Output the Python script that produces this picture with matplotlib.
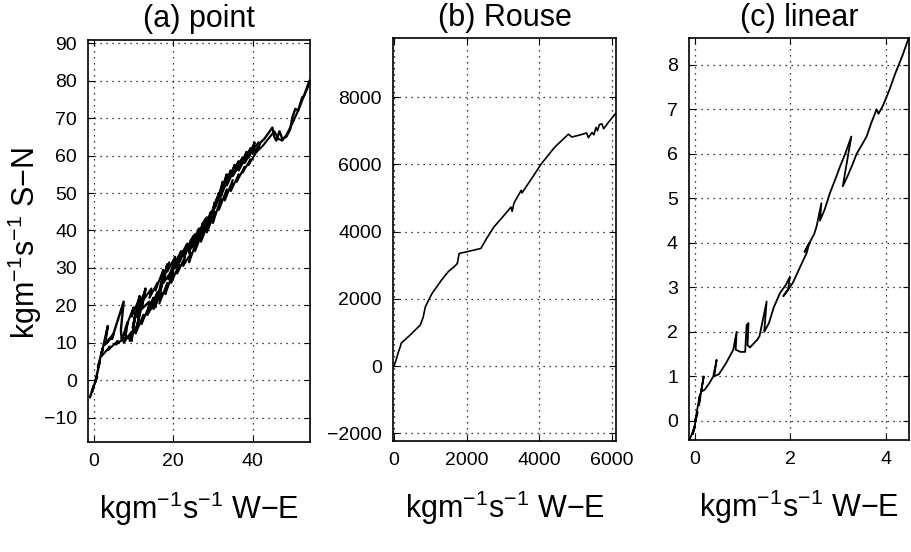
import matplotlib
matplotlib.use("Agg")
import matplotlib.pyplot as plt

plt.rcParams['font.family'] = ['Liberation Sans', 'DejaVu Sans']
plt.rcParams['mathtext.fontset'] = 'custom'
plt.rcParams['mathtext.rm'] = 'Liberation Sans'
plt.rcParams['mathtext.it'] = 'Liberation Sans:italic'
plt.rcParams['mathtext.default'] = 'regular'

# (a) point  - several overlapping cumulative transport trajectories
pa_x = [-1.0, 0.0, -0.5, 0.8, 0.3, 1.5, 1.0, 2.2, 1.8, 3.5, 2.8, 4.0, 3.2, 5.0, 4.5,
        7.5, 6.8, 7.0, 8.5, 8.0, 9.5, 10.5, 9.8, 11.5, 10.8, 12.0, 11.0, 13.0, 12.0,
        14.0, 13.5, 15.0, 14.2, 16.0, 15.5, 17.5, 16.8, 18.5, 17.5, 19.5, 18.8, 20.5,
        19.8, 21.5, 20.5, 22.5, 21.5, 23.5, 22.8, 24.5, 24.0, 25.5, 24.8, 26.5, 25.8,
        27.5, 26.5, 28.5, 27.5, 29.5, 28.8, 30.5, 30.0, 31.5, 31.0, 32.5, 32.0, 33.5,
        32.8, 34.5, 34.0, 35.5, 35.0, 36.5, 36.0, 37.5, 37.0, 38.5, 38.0, 39.5, 39.0,
        40.5, 40.0, 41.5, 41.0, 42.0, 43.0, 44.0, 45.0, 45.5, 46.0, 46.8, 47.5, 48.5,
        49.5, 50.0, 50.8, 51.5, 52.5, 53.0, 54.0, 54.4]
pa_y = [-4.5, -1.5, -3.0, 1.0, -0.5, 5.0, 3.5, 8.5, 6.5, 14.5, 9.5, 11.0, 10.0, 12.5, 11.0,
        21.0, 13.5, 10.5, 15.5, 12.0, 10.5, 18.0, 14.0, 22.5, 17.0, 21.0, 15.0, 24.5, 19.0,
        21.0, 17.5, 22.0, 19.0, 23.5, 19.5, 28.5, 24.0, 31.0, 26.0, 29.0, 27.0, 32.5,
        29.0, 33.0, 30.0, 34.5, 31.5, 36.0, 33.0, 37.5, 34.0, 39.0, 35.5, 40.5, 36.0,
        42.0, 38.0, 43.5, 39.5, 44.5, 41.0, 47.5, 45.0, 50.0, 47.5, 53.0, 50.0, 55.0,
        51.5, 56.0, 53.5, 57.5, 55.5, 58.5, 56.5, 59.5, 57.5, 61.0, 58.5, 62.0, 59.5,
        63.5, 60.5, 62.5, 61.0, 63.5, 64.5, 66.0, 67.5, 65.0, 64.0, 66.5, 64.5, 65.0,
        67.0, 70.0, 72.5, 72.0, 75.5, 76.0, 79.0, 80.0]

pa2_x = [2.0, 4.0, 3.5, 6.0, 5.5, 8.0, 7.5, 9.5, 9.0, 11.0, 10.5, 12.5, 12.0, 14.0, 13.5,
         15.5, 15.0, 17.0, 16.5, 18.5, 18.0, 20.0, 19.5, 21.5, 21.0, 23.0, 22.5, 24.5,
         24.0, 26.0, 25.5, 27.5, 27.0, 29.0, 28.5, 30.5, 30.0, 32.0, 31.5, 33.5, 33.0,
         35.0, 34.5, 36.5, 36.0, 38.0, 37.5, 39.5, 39.0, 41.0, 42.5, 44.0, 45.5, 46.5,
         47.5, 48.5, 50.0, 51.5, 53.0, 54.3]
pa2_y = [6.5, 9.0, 8.0, 10.5, 9.5, 11.5, 10.0, 13.0, 10.5, 15.0, 12.5, 17.5, 15.0, 20.0, 17.5,
         21.0, 19.0, 23.5, 20.5, 26.0, 23.0, 29.0, 26.0, 31.0, 28.5, 33.0, 30.5, 34.0,
         31.5, 37.5, 34.5, 40.0, 37.0, 42.5, 39.5, 45.0, 42.0, 48.5, 45.5, 51.0, 48.0,
         53.5, 50.5, 55.0, 53.0, 57.0, 55.5, 59.0, 57.5, 61.0, 62.5, 64.5, 66.5, 64.5,
         64.0, 65.5, 68.5, 72.0, 76.0, 79.0]

pa3_x = [8.0, 10.0, 9.5, 11.5, 11.0, 13.0, 12.5, 14.5, 14.0, 16.0, 15.5, 17.5, 17.0, 19.0,
         18.5, 20.5, 20.0, 22.0, 21.5, 23.5, 23.0, 25.0, 24.5, 26.5, 26.0, 28.0, 27.5,
         29.5, 29.0, 31.0, 30.5, 32.5, 32.0, 34.0, 33.5, 35.5, 35.0, 37.0, 36.5, 38.5,
         38.0, 40.0, 41.5]
pa3_y = [14.0, 19.5, 17.0, 22.0, 19.5, 24.0, 21.5, 24.5, 22.0, 26.0, 24.0, 29.5, 27.0, 31.5,
         29.0, 33.0, 30.5, 34.5, 32.5, 36.5, 34.0, 38.5, 36.0, 40.5, 38.0, 43.0, 40.0,
         45.0, 42.5, 48.5, 46.0, 51.5, 49.0, 54.5, 52.0, 56.5, 54.5, 58.0, 56.0, 60.0,
         58.0, 61.5, 63.5]

# (b) Rouse
pb_x = [0, 60, 120, 170, 195, 400, 720, 800, 860, 900, 1045, 1300, 1500, 1650, 1740, 1790,
        2000, 2390, 2550, 2750, 3000, 3220, 3250, 3300, 3500, 3520, 3800, 4055, 4420, 4800,
        4890, 5100, 5300, 5350, 5450, 5500, 5560, 5600, 5650, 5720, 5770, 5900, 6050, 6170]
pb_y = [0, 200, 420, 575, 680, 880, 1220, 1450, 1760, 1850, 2160, 2550, 2820, 2950, 3050, 3350,
        3400, 3500, 3800, 4140, 4450, 4730, 4600, 4850, 5230, 5150, 5600, 6020, 6510, 6900,
        6815, 6870, 6935, 6795, 6950, 6880, 7100, 7000, 7180, 7210, 7060, 7250, 7450, 7610]

# (c) linear
pc_x = [-0.12, 0.0, -0.05, 0.05, 0.0, 0.10, 0.08, 0.18, 0.12, 0.20, 0.30, 0.38, 0.45, 0.40,
        0.50, 0.65, 0.80, 0.87, 0.85, 0.95, 1.05, 1.08, 1.12, 1.10, 1.15, 1.30, 1.35, 1.50,
        1.45, 1.55, 1.65, 1.78, 1.90, 1.99, 1.95, 1.85, 2.05, 2.20, 2.34, 2.40, 2.30, 2.50,
        2.55, 2.65, 2.62, 2.72, 2.83, 2.95, 3.04, 3.15, 3.28, 3.20, 3.10, 3.20, 3.30, 3.39,
        3.50, 3.60, 3.70, 3.81, 3.85, 3.95, 4.08, 4.20, 4.35, 4.50]
pc_y = [-0.43, -0.10, -0.30, 0.20, 0.00, 0.60, 0.35, 1.00, 0.65, 0.70, 0.85, 1.00, 1.37, 1.00,
        1.05, 1.30, 1.60, 2.00, 1.60, 1.55, 1.55, 2.15, 2.20, 1.70, 1.65, 1.82, 1.90, 2.68,
        2.00, 2.20, 2.55, 2.87, 3.05, 3.24, 2.95, 2.80, 3.10, 3.45, 3.77, 4.00, 3.80, 4.20,
        4.37, 4.89, 4.50, 4.75, 5.12, 5.45, 5.71, 6.00, 6.39, 5.90, 5.27, 5.50, 5.75, 6.00,
        6.20, 6.39, 6.70, 7.00, 6.90, 7.10, 7.44, 7.80, 8.20, 8.65]

titles = ['(a) point', '(b) Rouse', '(c) linear']
xlabel = r'kgm$^{-1}$s$^{-1}$ W' + '\u2212' + 'E'
ylabel = r'kgm$^{-1}$s$^{-1}$ S' + '\u2212' + 'N'

fig = plt.figure(figsize=(9.11, 5.52), dpi=100)
axa = fig.add_axes([0.0966, 0.1993, 0.2437, 0.7290])
axb = fig.add_axes([0.4314, 0.2011, 0.2448, 0.7300])
axc = fig.add_axes([0.7563, 0.2029, 0.2420, 0.7280])

axa.plot(pa_x, pa_y, color='black', lw=1.7)
axa.plot(pa2_x, pa2_y, color='black', lw=1.5)
axa.plot(pa3_x, pa3_y, color='black', lw=1.5)
axb.plot(pb_x, pb_y, color='black', lw=1.2)
axc.plot(pc_x, pc_y, color='black', lw=1.3)

axa.set_xlim(-1.5, 54.5)
axa.set_ylim(-16.5, 91)
axa.set_xticks([0, 20, 40])
axa.set_yticks(range(-10, 91, 10))

axb.set_xlim(-30, 6110)
axb.set_ylim(-2230, 9760)
axb.set_xticks([0, 2000, 4000, 6000])
axb.set_yticks([-2000, 0, 2000, 4000, 6000, 8000])

axc.set_xlim(-0.13, 4.5)
axc.set_ylim(-0.43, 8.6)
axc.set_xticks([0, 2, 4])
axc.set_yticks(range(0, 9))

for ax, t in zip([axa, axb, axc], titles):
    ax.set_title(t, fontsize=22, pad=9)
    ax.grid(True, color='black', lw=0.9, linestyle=(0, (1, 3.8)))
    ax.tick_params(direction='in', top=True, right=True, labelsize=14,
                   length=4, width=0.8, pad=8)
    for s in ax.spines.values():
        s.set_linewidth(1.2)
    ax.set_xlabel(xlabel, fontsize=22, labelpad=14)

fig.text(0.027, 0.56, ylabel, fontsize=22, rotation=90, ha='center', va='center')

fig.savefig('out.png', dpi=100)
